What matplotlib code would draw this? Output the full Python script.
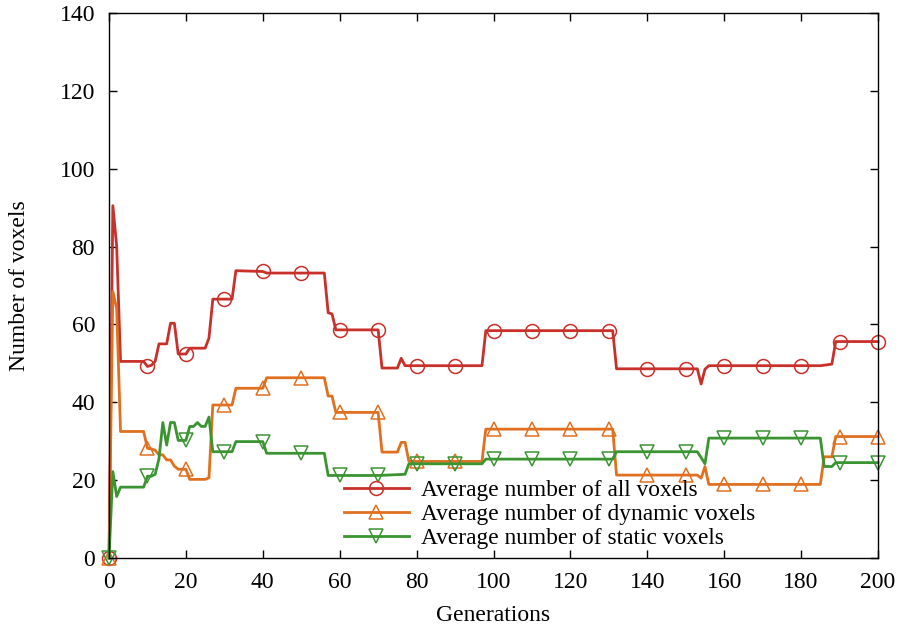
import matplotlib
matplotlib.use("Agg")
import matplotlib.pyplot as plt
from matplotlib.lines import Line2D

plt.rcParams["font.family"] = ["Liberation Serif", "DejaVu Serif"]

# generation / value breakpoints
all_gen = [0, 1, 2, 3, 9, 10, 11, 12, 13, 14, 15, 16, 17, 18, 19, 20, 21, 25, 26, 27,
           30, 32, 33, 40, 41, 50, 56, 57, 58, 59, 60, 70, 71, 75, 76, 77, 78, 80, 90,
           97, 98, 100, 110, 120, 130, 131, 132, 140, 150, 153, 154, 155, 156, 160,
           170, 180, 185, 188, 189, 190, 200]
all_val = [0, 90.5, 80, 50.5, 50.5, 49.2, 49.5, 50.5, 55, 55, 55, 60.3, 60.3, 52.4,
           52.4, 52.4, 53.9, 53.9, 56.5, 66.5, 66.5, 66.5, 73.8, 73.6, 73.2, 73.2,
           73.2, 63, 62.7, 58.6, 58.6, 58.6, 48.8, 48.8, 51.3, 49.4, 49.4, 49.4, 49.4,
           49.4, 58.4, 58.4, 58.4, 58.4, 58.4, 58.4, 48.6, 48.6, 48.6, 48.6, 44.7,
           48.5, 49.4, 49.4, 49.4, 49.4, 49.4, 49.8, 55.6, 55.6, 55.6]

dyn_gen = [0, 1, 2, 3, 9, 10, 11, 12, 13, 14, 15, 16, 17, 18, 20, 21, 25, 26, 27, 30,
           32, 33, 40, 41, 50, 56, 57, 58, 59, 60, 70, 71, 75, 76, 77, 78, 80, 90, 97,
           98, 100, 110, 120, 130, 131, 132, 140, 150, 153, 154, 155, 156, 160, 170,
           180, 185, 186, 188, 189, 190, 200]
dyn_val = [0, 68.5, 64, 32.5, 32.5, 28.2, 28, 27.7, 26.5, 26.5, 25.2, 25.2, 23.6, 22.8,
           22.8, 20.2, 20.2, 20.6, 39.3, 39.3, 39.3, 43.6, 43.6, 46.3, 46.3, 46.3,
           41.6, 41.6, 37.4, 37.4, 37.4, 27.2, 27.2, 29.7, 29.7, 24.8, 24.8, 24.8,
           24.8, 33.1, 33.1, 33.1, 33.1, 33.1, 33.1, 21.3, 21.3, 21.3, 21.3, 20.5,
           23.5, 18.9, 18.9, 18.9, 18.9, 18.9, 26, 26, 31.2, 31.2, 31.2]

sta_gen = [0, 1, 2, 3, 9, 10, 11, 12, 13, 14, 15, 16, 17, 18, 20, 21, 22, 23, 24, 25,
           26, 27, 30, 32, 33, 40, 41, 50, 56, 57, 60, 70, 77, 78, 80, 90, 97, 98, 100,
           110, 120, 130, 131, 132, 140, 150, 153, 154, 155, 156, 160, 170, 180, 185,
           186, 188, 189, 190, 200]
sta_val = [0, 22.2, 15.8, 18.2, 18.2, 21, 21, 21.5, 25.5, 34.8, 29, 34.8, 34.8, 30.2,
           30.2, 33.8, 33.8, 34.8, 33.8, 33.8, 36.2, 27.3, 27.3, 27.3, 29.9, 29.9,
           26.9, 26.9, 26.9, 21.2, 21.2, 21.2, 21.5, 24.2, 24.2, 24.2, 24.2, 25.4,
           25.4, 25.4, 25.4, 25.4, 25.4, 27.3, 27.3, 27.3, 27.3, 25.8, 24.2, 30.8,
           30.8, 30.8, 30.8, 30.8, 23.5, 23.5, 24.5, 24.5, 24.5]

labels = ["Average number of all voxels",
          "Average number of dynamic voxels",
          "Average number of static voxels"]

fig = plt.figure(figsize=(9.02, 6.3), dpi=100)
ax = fig.add_axes([109 / 902, 72 / 630, 769 / 902, 545 / 630])

series = [(all_gen, all_val, "#c8302a", "o"),
          (dyn_gen, dyn_val, "#e07020", "^"),
          (sta_gen, sta_val, "#3a9432", "v")]

handles = []
for (g, v, c, m), lab in zip(series, labels):
    marks = [i for i, x in enumerate(g) if x % 10 == 0]
    ax.plot(g, v, color=c, lw=2.0, marker=m, markevery=marks, ms=10,
            mfc="none", mec=c, mew=1.1, clip_on=False)
    handles.append(Line2D([], [], color=c, lw=2.0, marker=m, ms=10,
                          mfc="none", mec=c, mew=1.1, label=lab))

ax.set_xlim(0, 200)
ax.set_ylim(0, 140)
ax.set_xticks(range(0, 201, 20))
ax.set_yticks(range(0, 141, 20))
ax.tick_params(direction="in", length=6, width=1, top=True, right=True,
               labelsize=17)
ax.tick_params(axis="y", pad=10)
ax.tick_params(axis="x", pad=10)
for s in ax.spines.values():
    s.set_linewidth(1.0)
ax.set_xlabel("Generations", fontsize=17, labelpad=9)
ax.set_ylabel("Number of voxels", fontsize=17, labelpad=21)

ax.legend(handles=handles, loc="upper left", bbox_to_anchor=(0.29, 0.165),
          frameon=False, fontsize=16.8, handlelength=2.8, labelspacing=0.12,
          handletextpad=0.5, borderpad=0)

fig.savefig("out.png", dpi=100)
